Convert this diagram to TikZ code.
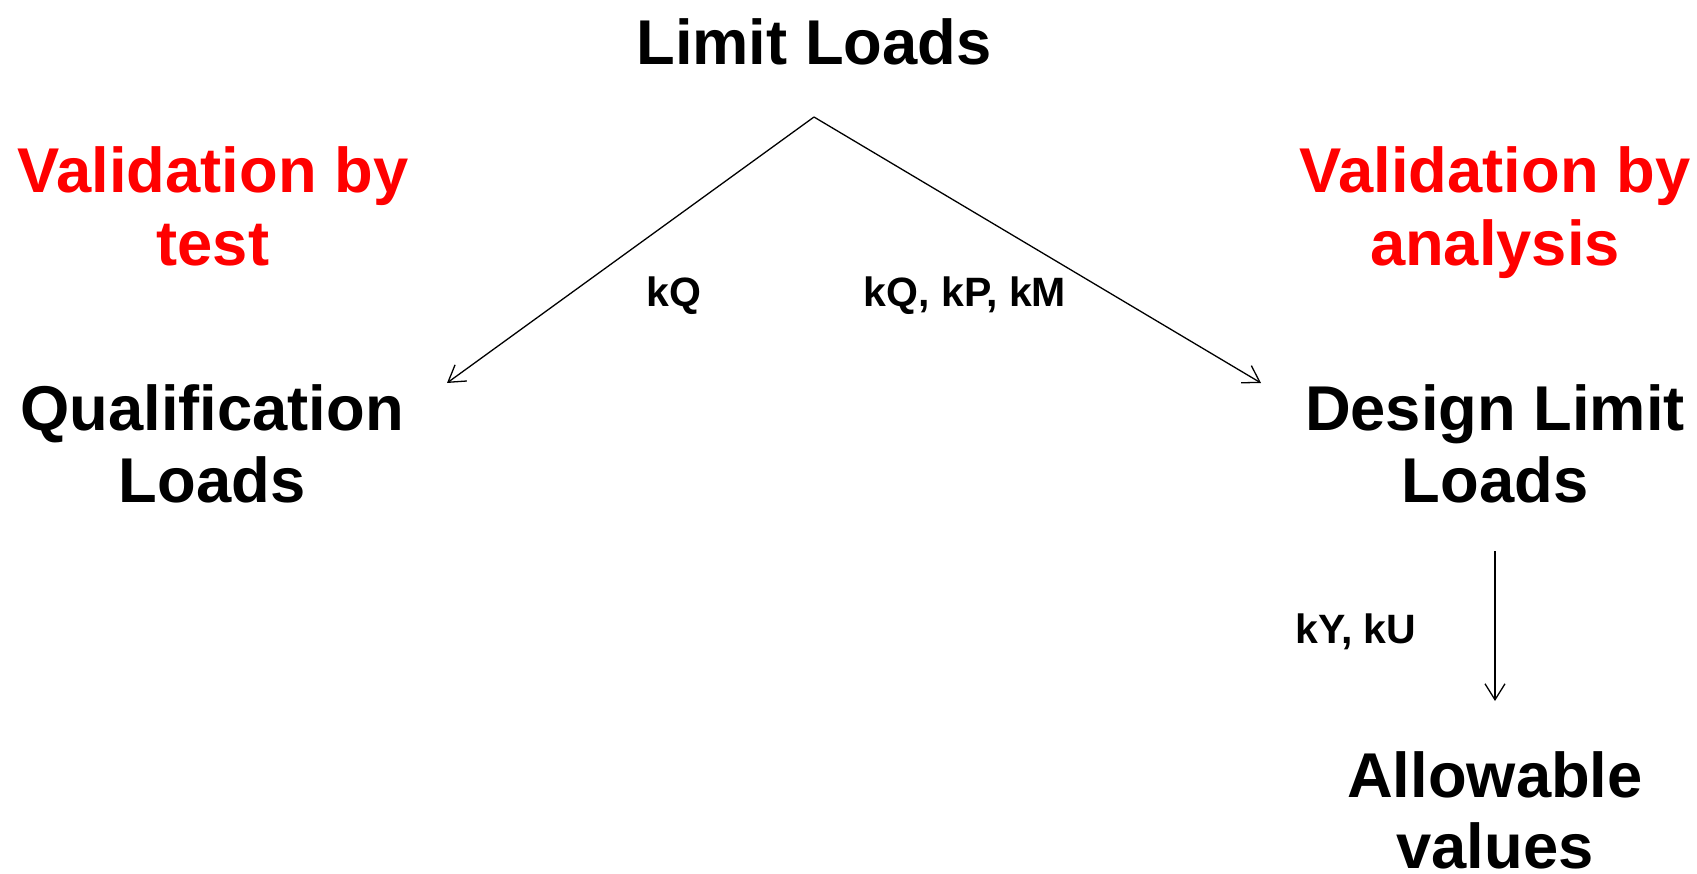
\documentclass[tikz,border=0pt]{standalone}
\usepackage{fontspec}
\setmainfont{Liberation Sans}
\usetikzlibrary{arrows.meta}
\begin{document}
\begin{tikzpicture}[x=1pt,y=-1pt,
  big/.style={font=\fontsize{63.3}{72.5}\selectfont\bfseries, inner sep=0pt, anchor=base},
  redtext/.style={big, text={rgb,255:red,255;green,0;blue,0}},
  factor/.style={font=\fontsize{41}{47}\selectfont\bfseries, inner sep=0pt, anchor=base},
  link/.style={line width=1.3pt, -{Straight Barb[length=16pt,width=20pt,line width=1.3pt]}}]
  \useasboundingbox (0,0) rectangle (1697,873);

  % main text blocks
  \node[big] (limit) at (814,64) {Limit Loads};
  \node[redtext] (vt1) at (213,192) {Validation by};
  \node[redtext] (vt2) at (213,265) {test};
  \node[redtext] (va1) at (1495,192) {Validation by};
  \node[redtext] (va2) at (1495,265) {analysis};
  \node[big] (qual1) at (212,430) {Qualification};
  \node[big] (qual2) at (212,502) {Loads};
  \node[big] (dll1) at (1495,430) {Design Limit};
  \node[big] (dll2) at (1495,502) {Loads};
  \node[big] (allow1) at (1495,797) {Allowable};
  \node[big] (allow2) at (1495,868) {values};

  % factor labels
  \node[factor] (kq) at (674,306) {kQ};
  \node[factor] (kqpm) at (965,306) {kQ, kP, kM};
  \node[factor] (kyu) at (1356,643) {kY, kU};

  % connector end points
  \coordinate (apex) at (814,117);
  \coordinate (qtip) at (447,383);
  \coordinate (dtip) at (1261,383);
  \coordinate (dstart) at (1495,551);
  \coordinate (atip) at (1495,701);

  \draw[link] (apex) -- (qtip);
  \draw[link] (apex) -- (dtip);
  \draw[link] (dstart) -- (atip);
\end{tikzpicture}
\end{document}
